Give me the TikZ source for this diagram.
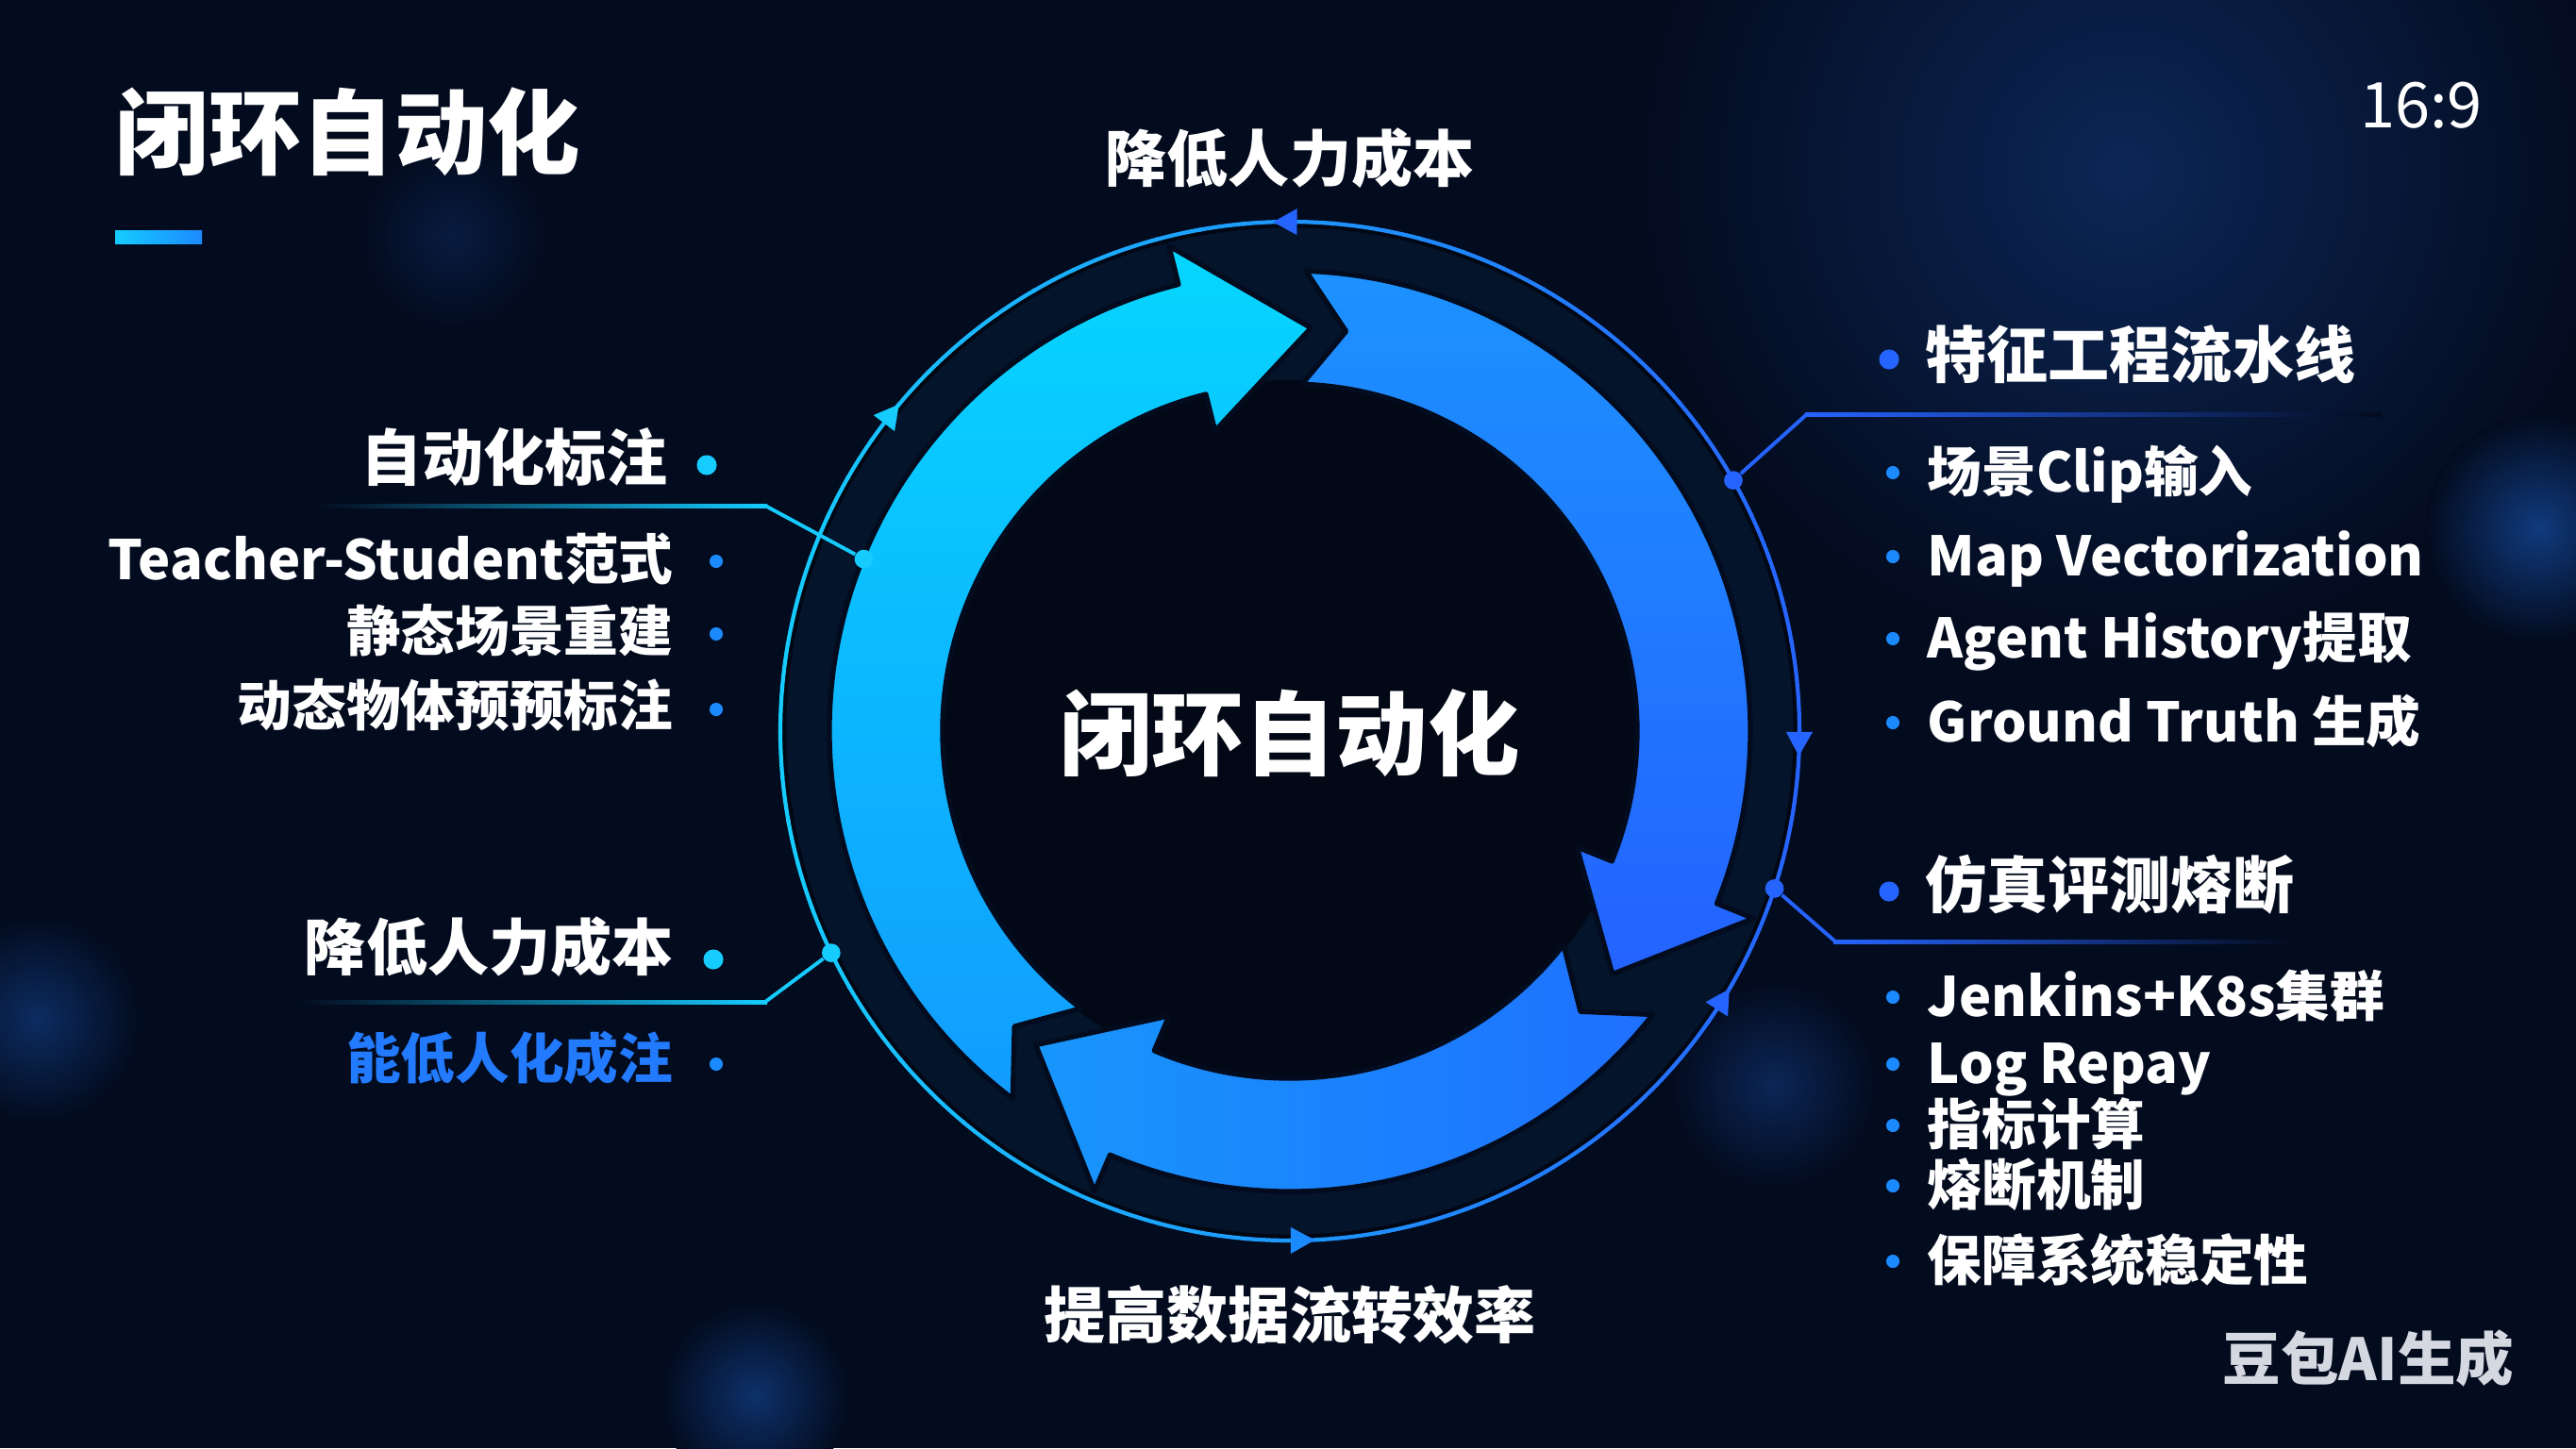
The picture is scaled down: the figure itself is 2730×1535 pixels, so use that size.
\documentclass[tikz,border=0pt]{standalone}
\usepackage{fontspec}
\setmainfont{Noto Sans CJK SC}
\usetikzlibrary{calc}

\definecolor{bgc}{RGB}{3,11,30}
\definecolor{navyc}{RGB}{12,38,86}
\definecolor{glowc}{RGB}{16,58,125}
\definecolor{cyanc}{RGB}{22,204,255}
\definecolor{bluec}{RGB}{38,100,255}
\definecolor{midc}{RGB}{28,138,255}
\definecolor{garc}{RGB}{34,122,255}
\definecolor{markc}{RGB}{212,216,224}
\definecolor{arrLa}{RGB}{6,214,255}
\definecolor{arrLb}{RGB}{18,156,255}
\definecolor{arrRa}{RGB}{28,146,255}
\definecolor{arrRb}{RGB}{36,98,255}
\definecolor{arrBa}{RGB}{24,150,252}
\definecolor{arrBb}{RGB}{30,112,255}

\tikzset{
  txt/.style={text=white, inner sep=0pt},
  hdr/.style={txt, font=\fontsize{18.5}{22}\selectfont\bfseries, text height=14.8pt, text depth=1.9pt},
  item/.style={txt, font=\fontsize{16.4}{20}\selectfont\bfseries, text height=13.1pt, text depth=1.6pt},
  bigdot/.style={circle, fill=#1, inner sep=0pt, minimum size=6pt},
  smalldot/.style={circle, fill=#1, inner sep=0pt, minimum size=4pt},
  ringdot/.style={circle, fill=#1, inner sep=0pt, minimum size=5.6pt},
  lnk/.style={draw=#1, line width=1.1pt},
  arr/.style={draw=bgc, line width=1.5pt, line join=round},
}

\begin{document}
\begin{tikzpicture}[x=0.01cm, y=0.01cm]
  \useasboundingbox (0,0) rectangle (2730,-1535);
  \fill[bgc] (0,0) rectangle (2730,-1535);
  \shade[inner color=navyc, outer color=bgc] (2250,-180) circle (520);
  \shade[inner color=glowc, outer color=bgc] (2690,-560) circle (120);
  \shade[inner color=glowc!70!bgc, outer color=bgc] (40,-1080) circle (110);
  \shade[inner color=glowc!80!bgc, outer color=bgc] (800,-1480) circle (100);
  \shade[inner color=navyc, outer color=bgc] (1880,-1150) circle (110);
  \shade[inner color=navyc!60!bgc, outer color=bgc] (480,-250) circle (100);

  \node[txt, anchor=west, font=\fontsize{28}{34}\selectfont\bfseries, text height=22.4pt, text depth=2.8pt] (title) at (122,-143) {闭环自动化};
  \shade[left color=cyanc, right color=midc] (122,-244) rectangle (214,-258);
  \node[txt, font=\fontsize{19}{23}\selectfont] (ratio) at (2566,-112) {16:9};

  \begin{scope}[shift={(1367,-775)}]
    \fill[black, opacity=0.3] (0,0) circle (540);
    \draw[midc, opacity=0.10, line width=60pt] (0,0) circle (428);
    \fill[bgc!70!black] (0,0) circle (372);
    \foreach \a in {0,5,...,355} {
      \pgfmathsetmacro\p{50-50*cos(\a+2.5)}
      \draw[line width=1.2pt, cyanc!\p!bluec] (\a:540) arc[start angle=\a, end angle=\a+5.3, radius=540];
    }
    \foreach \a/\d/\c in {90.4/1.5/bluec, 141.6/-1.5/cyanc, -1.3/-1.5/bluec, -31.9/1.5/bluec, -88.7/1.5/midc}
      \fill[\c] ({\a+\d}:540) -- ({\a-0.8*\d}:526) -- ({\a-0.8*\d}:554) -- cycle;
    \shadedraw[arr, top color=arrLa, bottom color=arrLb]
      (233:488) arc[start angle=233, end angle=104, radius=488] -- (104:530) -- (87:428)
      -- (104:328) -- (104:368) arc[start angle=104, end angle=233, radius=368] -- (227:428) -- cycle;
    \shadedraw[arr, top color=arrRa, bottom color=arrRb]
      (88:488) arc[start angle=88, end angle=-22, radius=488] -- (-22:530) -- (-37:428)
      -- (-22:328) -- (-22:368) arc[start angle=-22, end angle=88, radius=368] -- (82:428) -- cycle;
    \shadedraw[arr, left color=arrBa, right color=arrBb]
      (-38:488) arc[start angle=-38, end angle=-113, radius=488] -- (-113:530) -- (-129:428)
      -- (-113:328) -- (-113:368) arc[start angle=-113, end angle=-38, radius=368] -- (-44:428) -- cycle;
    \node[ringdot=cyanc] (ldA) at (158:487) {};
    \node[ringdot=cyanc] (ldB) at (205.8:540) {};
    \node[ringdot=bluec] (rdA) at (29.5:540) {};
    \node[ringdot=bluec] (rdB) at (-18:540) {};
  \end{scope}

  \node[txt, font=\fontsize{27.7}{33}\selectfont\bfseries, text height=22.2pt, text depth=2.8pt] (core) at (1367,-780) {闭环自动化};
  \node[hdr] (top) at (1367,-170) {降低人力成本};
  \node[hdr] (bot) at (1367,-1396) {提高数据流转效率};

  \coordinate (ldAe) at (811,-536);
  \coordinate (ldBe) at (811,-1062);
  \coordinate (rdAe) at (1915,-439);
  \coordinate (rdBe) at (1945,-998);
  \draw[lnk=cyanc] (ldA) -- (ldAe);
  \draw[lnk=cyanc] (ldB) -- (ldBe);
  \draw[lnk=bluec] (rdA) -- (rdAe);
  \draw[lnk=bluec] (rdB) -- (rdBe);
  \shade[left color=bgc, right color=cyanc] (335,-534) rectangle (813,-538);
  \shade[left color=bgc, right color=cyanc] (316,-1060) rectangle (813,-1064);
  \shade[left color=bluec, right color=bgc] (1913,-437) rectangle (2524,-441);
  \shade[left color=bluec, right color=bgc] (1943,-996) rectangle (2430,-1000);

  \node[hdr, anchor=east] (lhA) at (708,-487) {自动化标注};
  \node[bigdot=cyanc] (lhAd) at (749,-493) {};
  \node[item, anchor=east] (li1) at (714,-594) {Teacher-Student范式};
  \node[smalldot=midc] (li1d) at (759,-595) {};
  \node[item, anchor=east] (li2) at (714,-670) {静态场景重建};
  \node[smalldot=midc] (li2d) at (759,-672) {};
  \node[item, anchor=east] (li3) at (714,-749) {动态物体预预标注};
  \node[smalldot=midc] (li3d) at (759,-752) {};
  \node[hdr, anchor=east] (lhB) at (714,-1006) {降低人力成本};
  \node[bigdot=cyanc] (lhBd) at (756,-1017) {};
  \node[item, anchor=east, text=garc] (li4) at (714,-1123) {能低人化成注};
  \node[smalldot=midc] (li4d) at (759,-1128) {};

  \node[hdr, anchor=west] (rhA) at (2040,-378) {特征工程流水线};
  \node[bigdot=bluec] (rhAd) at (2002,-381) {};
  \node[item, anchor=west] (ri1) at (2042,-501) {场景Clip输入};
  \node[smalldot=midc] (ri1d) at (2006,-501) {};
  \node[item, anchor=west] (ri2) at (2042,-590) {Map Vectorization};
  \node[smalldot=midc] (ri2d) at (2006,-590) {};
  \node[item, anchor=west] (ri3) at (2042,-677) {Agent History提取};
  \node[smalldot=midc] (ri3d) at (2006,-677) {};
  \node[item, anchor=west] (ri4) at (2042,-766) {Ground Truth 生成};
  \node[smalldot=midc] (ri4d) at (2006,-766) {};
  \node[hdr, anchor=west] (rhB) at (2040,-940) {仿真评测熔断};
  \node[bigdot=bluec] (rhBd) at (2002,-945) {};
  \node[item, anchor=west] (ri5) at (2042,-1057) {Jenkins+K8s集群};
  \node[smalldot=midc] (ri5d) at (2006,-1057) {};
  \node[item, anchor=west] (ri6) at (2042,-1128) {Log Repay};
  \node[smalldot=midc] (ri6d) at (2006,-1128) {};
  \node[item, anchor=west] (ri7) at (2042,-1193) {指标计算};
  \node[smalldot=midc] (ri7d) at (2006,-1193) {};
  \node[item, anchor=west] (ri8) at (2042,-1257) {熔断机制};
  \node[smalldot=midc] (ri8d) at (2006,-1257) {};
  \node[item, anchor=west] (ri9) at (2042,-1337) {保障系统稳定性};
  \node[smalldot=midc] (ri9d) at (2006,-1337) {};

  \node[txt, text=markc, font=\fontsize{17.5}{21}\selectfont\bfseries] (mark) at (2510,-1440) {豆包AI生成};
\end{tikzpicture}
\end{document}
